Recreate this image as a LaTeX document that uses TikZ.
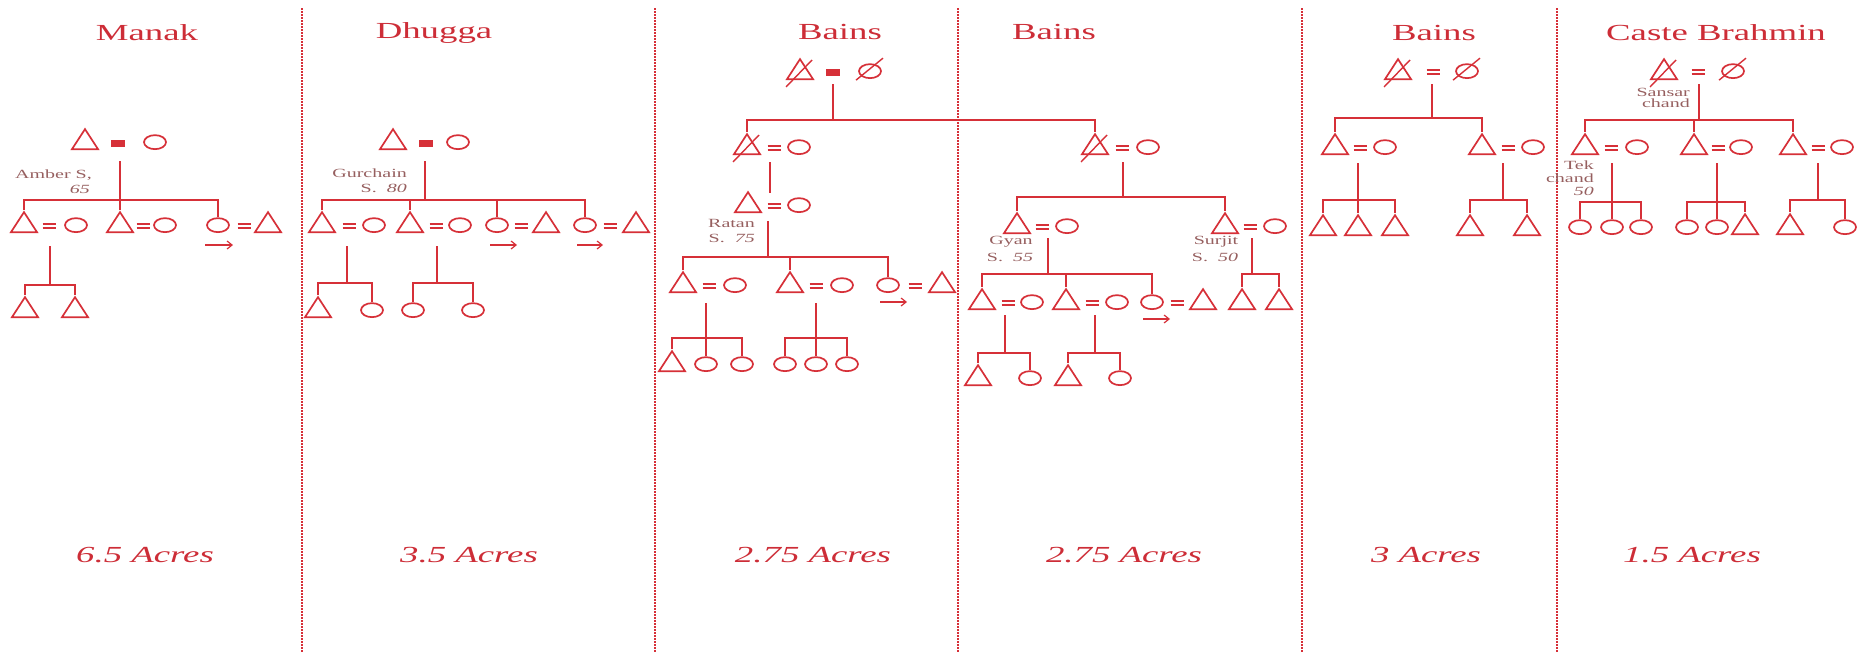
\documentclass[tikz,border=0pt]{standalone}
\usepackage{fontspec}
\usetikzlibrary{shapes.geometric,arrows.meta}
\newfontfamily\kinfont[FakeStretch=1.6]{Liberation Serif}
\definecolor{kin}{RGB}{214,48,56}
\definecolor{labc}{RGB}{150,95,95}
\definecolor{titc}{RGB}{205,45,55}
\tikzset{
  kinline/.style={draw=kin, line width=1.9pt},
  male/.style={draw=kin, line width=1.7pt, isosceles triangle, isosceles triangle stretches,
    shape border rotate=90, minimum width=26pt, minimum height=20pt, inner sep=0pt, anchor=lower side},
  female/.style={draw=kin, line width=1.7pt, ellipse, minimum width=22pt, minimum height=14pt,
    inner sep=0pt, anchor=south},
  eqs/.style={text=kin, inner sep=0pt},
  eqb/.style={fill=kin, minimum width=14pt, minimum height=7pt, inner sep=0pt},
  ttl/.style={text=titc, font=\kinfont\fontsize{23}{26}\selectfont},
  acre/.style={text=titc, font=\kinfont\itshape\fontsize{23}{26}\selectfont},
  lab/.style={text=labc, inner sep=0pt, anchor=east, font=\kinfont\fontsize{12.5}{13}\selectfont},
  divider/.style={draw=kin, line width=1.3pt, dash pattern=on 1.5pt off 1.5pt},
  outarrow/.style={draw=kin, line width=1.2pt, -{Straight Barb[length=5pt,width=8pt]}}
}
% marriage sign as two bars
\newcommand\wed{\vbox{\hrule width 13pt height 1.8pt \vskip 2.6pt \hrule width 13pt height 1.8pt}}
% slash through a dead man / dead woman
\newcommand\deadm[1]{\draw[kinline, line width=1.4pt] ([shift={(-14pt,-7pt)}]#1.lower side) -- ([shift={(12pt,20pt)}]#1.lower side);}
\newcommand\deadf[1]{\draw[kinline, line width=1.4pt] ([shift={(-14pt,-9pt)}]#1.center) -- ([shift={(13pt,13pt)}]#1.center);}
\begin{document}
\begin{tikzpicture}[x=1pt,y=-1pt]
\useasboundingbox (0,0) rectangle (1867,653);
% column dividers
\foreach \dx in {302,655,958,1302,1557} \draw[divider] (\dx,8) -- (\dx,653);

% family names and land
\node[ttl] (tManak) at (147,33) {Manak};
\node[ttl] (tDhugga) at (434,33) {Dhugga};
\node[ttl] (tBainsA) at (840,32) {Bains};
\node[ttl] (tBainsB) at (1054,32) {Bains};
\node[ttl] (tBainsC) at (1434,33) {Bains};
\node[ttl] (tBrahmin) at (1716,33) {Caste Brahmin};
\node[acre] (lManak) at (145,555) {6.5 Acres};
\node[acre] (lDhugga) at (469,555) {3.5 Acres};
\node[acre] (lBainsA) at (813,555) {2.75 Acres};
\node[acre] (lBainsB) at (1124,555) {2.75 Acres};
\node[acre] (lBainsC) at (1426,555) {3 Acres};
\node[acre] (lBrahmin) at (1692,555) {1.5 Acres};

% Manak
\node[male] (mk) at (85,150) {};
\node[eqb] (mkE) at (118,143) {};
\node[female] (mkW) at (155,150) {};
\node[male] (mkA) at (24,233) {};
\node[eqs] (mkAE) at (49,226) {\wed};
\node[female] (mkAW) at (76,233) {};
\node[male] (mkB) at (120,233) {};
\node[eqs] (mkBE) at (143,226) {\wed};
\node[female] (mkBW) at (165,233) {};
\node[female] (mkC) at (218,233) {};
\node[eqs] (mkCE) at (244,226) {\wed};
\node[male] (mkCH) at (268,233) {};
\draw[kinline] (120,161) -- (mkB.apex);
\draw[kinline] (mkA.apex) -- (24,200) -- (218,200) -- (mkC.north);
\draw[outarrow] (205,245) -- (233,245);
\node[male] (mkAA) at (25,318) {};
\node[male] (mkAB) at (75,318) {};
\draw[kinline] (50,246) -- (50,285);
\draw[kinline] (mkAA.apex) -- (25,285) -- (75,285) -- (mkAB.apex);
\node[lab] (nAmber) at (92,175) {Amber S,};
\node[lab] (nAmberAge) at (90,189) {\itshape 65};

% Dhugga
\node[male] (dg) at (393,150) {};
\node[eqb] (dgE) at (426,143) {};
\node[female] (dgW) at (458,150) {};
\node[male] (dgA) at (322,233) {};
\node[eqs] (dgAE) at (349,226) {\wed};
\node[female] (dgAW) at (374,233) {};
\node[male] (dgB) at (410,233) {};
\node[eqs] (dgBE) at (436,226) {\wed};
\node[female] (dgBW) at (460,233) {};
\node[female] (dgC) at (497,233) {};
\node[eqs] (dgCE) at (521,226) {\wed};
\node[male] (dgCH) at (546,233) {};
\node[female] (dgD) at (585,233) {};
\node[eqs] (dgDE) at (610,226) {\wed};
\node[male] (dgDH) at (636,233) {};
\draw[kinline] (425,161) -- (425,200);
\draw[kinline] (dgA.apex) -- (322,200) -- (585,200) -- (dgD.north);
\draw[kinline] (410,200) -- (dgB.apex);
\draw[kinline] (497,200) -- (dgC.north);
\draw[outarrow] (490,245) -- (517,245);
\draw[outarrow] (577,245) -- (603,245);
\node[male] (dgAA) at (318,318) {};
\node[female] (dgAB) at (372,318) {};
\draw[kinline] (347,246) -- (347,283);
\draw[kinline] (dgAA.apex) -- (318,283) -- (372,283) -- (dgAB.north);
\node[female] (dgBA) at (413,318) {};
\node[female] (dgBB) at (473,318) {};
\draw[kinline] (437,246) -- (437,283);
\draw[kinline] (dgBA.north) -- (413,283) -- (473,283) -- (dgBB.north);
\node[lab] (nGurchain) at (407,173) {Gurchain};
\node[lab] (nGurchainAge) at (407,188) {S.\ \ \itshape 80};

% Bains, first two columns share the old couple
\node[male] (ba) at (800,80) {};
\deadm{ba}
\node[eqb] (baE) at (833,72) {};
\node[female] (baW) at (870,79) {};
\deadf{baW}
\draw[kinline] (833,84) -- (833,120);
\node[male] (bnA) at (747,155) {};
\deadm{bnA}
\node[eqs] (bnAE) at (774,148) {\wed};
\node[female] (bnAW) at (799,155) {};
\node[male] (bnB) at (1095,155) {};
\deadm{bnB}
\node[eqs] (bnBE) at (1122,148) {\wed};
\node[female] (bnBW) at (1148,155) {};
\draw[kinline] (bnA.apex) -- (747,120) -- (1095,120) -- (bnB.apex);
\draw[kinline] (770,162) -- (770,193);
\node[male] (rt) at (748,213) {};
\node[eqs] (rtE) at (774,206) {\wed};
\node[female] (rtW) at (799,213) {};
\draw[kinline] (768,221) -- (768,257);
\node[male] (rtA) at (683,293) {};
\node[eqs] (rtAE) at (709,286) {\wed};
\node[female] (rtAW) at (735,293) {};
\node[male] (rtB) at (790,293) {};
\node[eqs] (rtBE) at (816,286) {\wed};
\node[female] (rtBW) at (842,293) {};
\node[female] (rtC) at (888,293) {};
\node[eqs] (rtCE) at (915,286) {\wed};
\node[male] (rtCH) at (942,293) {};
\draw[kinline] (rtA.apex) -- (683,257) -- (888,257) -- (rtC.north);
\draw[kinline] (790,257) -- (rtB.apex);
\draw[outarrow] (880,302) -- (907,302);
\node[male] (rtAA) at (672,372) {};
\node[female] (rtAB) at (706,372) {};
\node[female] (rtAC) at (742,372) {};
\draw[kinline] (706,303) -- (rtAB.north);
\draw[kinline] (rtAA.apex) -- (672,338) -- (742,338) -- (rtAC.north);
\node[female] (rtBA) at (785,372) {};
\node[female] (rtBB) at (816,372) {};
\node[female] (rtBC) at (847,372) {};
\draw[kinline] (816,303) -- (rtBB.north);
\draw[kinline] (rtBA.north) -- (785,338) -- (847,338) -- (rtBC.north);
\node[lab] (nRatan) at (755,223) {Ratan};
\node[lab] (nRatanAge) at (755,238) {S.\ \ \itshape 75};

\draw[kinline] (1123,162) -- (1123,197);
\node[male] (gy) at (1017,234) {};
\node[eqs] (gyE) at (1042,227) {\wed};
\node[female] (gyW) at (1067,234) {};
\node[male] (sj) at (1225,234) {};
\node[eqs] (sjE) at (1250,227) {\wed};
\node[female] (sjW) at (1275,234) {};
\draw[kinline] (gy.apex) -- (1017,197) -- (1225,197) -- (sj.apex);
\draw[kinline] (1048,238) -- (1048,274);
\node[male] (gyA) at (982,310) {};
\node[eqs] (gyAE) at (1008,303) {\wed};
\node[female] (gyAW) at (1032,310) {};
\node[male] (gyB) at (1066,310) {};
\node[eqs] (gyBE) at (1092,303) {\wed};
\node[female] (gyBW) at (1117,310) {};
\node[female] (gyC) at (1152,310) {};
\node[eqs] (gyCE) at (1177,303) {\wed};
\node[male] (gyCH) at (1203,310) {};
\draw[kinline] (gyA.apex) -- (982,274) -- (1152,274) -- (gyC.north);
\draw[kinline] (1066,274) -- (gyB.apex);
\draw[outarrow] (1143,319) -- (1170,319);
\node[male] (sjA) at (1242,310) {};
\node[male] (sjB) at (1279,310) {};
\draw[kinline] (1252,238) -- (1252,274);
\draw[kinline] (sjA.apex) -- (1242,274) -- (1279,274) -- (sjB.apex);
\node[male] (gyAA) at (978,386) {};
\node[female] (gyAB) at (1030,386) {};
\draw[kinline] (1005,315) -- (1005,353);
\draw[kinline] (gyAA.apex) -- (978,353) -- (1030,353) -- (gyAB.north);
\node[male] (gyBA) at (1068,386) {};
\node[female] (gyBB) at (1120,386) {};
\draw[kinline] (1095,315) -- (1095,353);
\draw[kinline] (gyBA.apex) -- (1068,353) -- (1120,353) -- (gyBB.north);
\node[lab, anchor=center] (nGyan) at (1011,242) {Gyan};
\node[lab, anchor=center] (nGyanAge) at (1010,257) {S.\ \ \itshape 55};
\node[lab, anchor=center] (nSurjit) at (1216,242) {Surjit};
\node[lab, anchor=center] (nSurjitAge) at (1215,257) {S.\ \ \itshape 50};

% Bains, third column
\node[male] (bc) at (1398,80) {};
\deadm{bc}
\node[eqs] (bcE) at (1433,72) {\wed};
\node[female] (bcW) at (1467,79) {};
\deadf{bcW}
\draw[kinline] (1432,84) -- (1432,118);
\node[male] (bcA) at (1335,155) {};
\node[eqs] (bcAE) at (1360,148) {\wed};
\node[female] (bcAW) at (1385,155) {};
\node[male] (bcB) at (1482,155) {};
\node[eqs] (bcBE) at (1508,148) {\wed};
\node[female] (bcBW) at (1533,155) {};
\draw[kinline] (bcA.apex) -- (1335,118) -- (1482,118) -- (bcB.apex);
\node[male] (bcAA) at (1323,236) {};
\node[male] (bcAB) at (1358,236) {};
\node[male] (bcAC) at (1395,236) {};
\draw[kinline] (1358,163) -- (bcAB.apex);
\draw[kinline] (bcAA.apex) -- (1323,200) -- (1395,200) -- (bcAC.apex);
\node[male] (bcBA) at (1470,236) {};
\node[male] (bcBB) at (1527,236) {};
\draw[kinline] (1503,163) -- (1503,200);
\draw[kinline] (bcBA.apex) -- (1470,200) -- (1527,200) -- (bcBB.apex);

% Brahmin
\node[male] (cb) at (1664,80) {};
\deadm{cb}
\node[eqs] (cbE) at (1698,72) {\wed};
\node[female] (cbW) at (1733,79) {};
\deadf{cbW}
\draw[kinline] (1699,84) -- (1699,120);
\node[male] (cbA) at (1585,155) {};
\node[eqs] (cbAE) at (1611,148) {\wed};
\node[female] (cbAW) at (1637,155) {};
\node[male] (cbB) at (1694,155) {};
\node[eqs] (cbBE) at (1718,148) {\wed};
\node[female] (cbBW) at (1741,155) {};
\node[male] (cbC) at (1793,155) {};
\node[eqs] (cbCE) at (1818,148) {\wed};
\node[female] (cbCW) at (1842,155) {};
\draw[kinline] (cbA.apex) -- (1585,120) -- (1793,120) -- (cbC.apex);
\draw[kinline] (1694,120) -- (cbB.apex);
\node[female] (cbAA) at (1580,235) {};
\node[female] (cbAB) at (1612,235) {};
\node[female] (cbAC) at (1641,235) {};
\draw[kinline] (1612,163) -- (cbAB.north);
\draw[kinline] (cbAA.north) -- (1580,202) -- (1641,202) -- (cbAC.north);
\node[female] (cbBA) at (1687,235) {};
\node[female] (cbBB) at (1717,235) {};
\node[male] (cbBC) at (1745,235) {};
\draw[kinline] (1717,163) -- (cbBB.north);
\draw[kinline] (cbBA.north) -- (1687,202) -- (1745,202) -- (cbBC.apex);
\node[male] (cbCA) at (1790,235) {};
\node[female] (cbCB) at (1845,235) {};
\draw[kinline] (1818,163) -- (1818,200);
\draw[kinline] (cbCA.apex) -- (1790,200) -- (1845,200) -- (cbCB.north);
\node[lab] (nSansar) at (1690,92) {Sansar};
\node[lab] (nSansarB) at (1690,103) {chand};
\node[lab] (nTek) at (1594,165) {Tek};
\node[lab] (nTekB) at (1594,178) {chand};
\node[lab] (nTekAge) at (1594,191) {\itshape 50};
\end{tikzpicture}
\end{document}
